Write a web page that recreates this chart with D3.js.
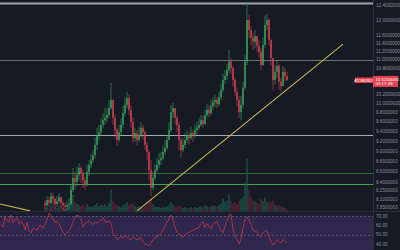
<!DOCTYPE html>
<html>
<head>
<meta charset="utf-8">
<script src="https://cdn.jsdelivr.net/npm/d3@7"></script>
<style>
  html, body { margin: 0; padding: 0; background: #161a25; }
  svg { display: block; font-family: "Liberation Sans", "DejaVu Sans", sans-serif; }
</style>
</head>
<body>
<div id="chart"></div>
<script>
// candle closes / highs / lows, one per bar (bar 0 is the first one on screen)
var closes = [7.99,8.08,8.03,8.15,8.10,8.01,8.06,8.13,8.03,7.98,7.96,7.99,8.01,
  8.26,8.48,8.41,8.54,8.67,8.56,8.44,8.35,8.59,8.73,8.82,8.92,9.12,9.32,9.38,9.53,9.63,9.68,9.74,9.89,10.07,
  9.68,9.42,9.22,9.38,9.53,9.78,9.96,10.11,9.85,9.59,9.26,9.36,9.22,9.32,9.47,9.38,9.12,8.98,8.63,8.30,
  8.48,8.63,8.73,8.82,8.86,8.98,9.06,9.22,9.42,9.80,9.89,9.68,9.53,9.22,9.02,9.12,9.22,9.32,9.26,9.36,
  9.30,9.42,9.47,9.53,9.63,9.55,9.74,9.85,9.78,9.93,10.02,10.07,9.98,10.13,10.29,10.52,10.61,10.75,10.95,
  10.80,10.52,10.25,10.07,9.80,9.96,10.34,10.95,12.00,11.74,11.54,11.44,11.59,11.34,11.19,10.87,11.36,
  11.87,12.00,11.49,11.04,10.52,10.71,10.85,10.48,10.38,10.71,10.61,10.52];
var highs = [8.08,8.15,8.14,8.22,8.21,8.12,8.15,8.21,8.12,8.06,8.03,8.06,8.10,
  8.35,8.67,8.59,8.69,8.76,8.71,8.63,8.50,8.73,8.82,8.94,9.02,9.26,9.47,9.53,9.67,9.78,9.89,9.89,10.07,10.45,
  10.07,9.74,9.47,9.53,9.67,9.93,10.13,10.25,10.18,9.96,9.68,9.47,9.42,9.49,9.59,9.53,9.42,9.18,9.02,8.82,
  8.59,8.73,8.86,8.96,8.98,9.10,9.22,9.32,9.59,9.96,10.00,9.89,9.74,9.59,9.26,9.26,9.36,9.42,9.38,9.49,
  9.42,9.53,9.59,9.68,9.74,9.72,9.85,9.98,9.96,10.07,10.13,10.18,10.13,10.25,10.43,10.66,10.75,10.90,11.24,
  11.04,10.85,10.57,10.34,10.16,10.16,10.48,11.11,12.46,12.13,11.84,11.66,11.74,11.54,11.49,11.29,11.54,
  12.13,12.16,12.05,11.49,10.99,10.87,10.99,10.90,10.57,10.85,10.80,10.71];
var lows = [7.92,7.98,7.96,7.99,8.01,7.92,7.96,8.01,7.94,7.90,7.89,7.90,7.92,
  7.98,8.22,8.26,8.33,8.44,8.39,8.30,8.26,8.33,8.52,8.67,8.77,8.86,9.02,9.22,9.30,9.47,9.53,9.59,9.68,9.85,
  9.53,9.26,9.10,9.18,9.30,9.47,9.72,9.89,9.74,9.47,9.16,9.18,9.12,9.18,9.26,9.22,9.02,8.82,8.44,8.15,
  8.26,8.44,8.59,8.67,8.73,8.82,8.92,9.02,9.22,9.38,9.68,9.53,9.38,9.02,8.88,8.98,9.06,9.16,9.12,9.22,
  9.18,9.26,9.34,9.42,9.49,9.47,9.53,9.68,9.68,9.74,9.85,9.91,9.89,9.93,10.07,10.25,10.43,10.52,10.68,
  10.66,10.38,10.16,9.93,9.68,9.63,9.89,10.29,10.87,11.54,11.36,11.24,11.29,11.19,11.04,10.75,10.85,
  11.29,11.74,11.34,10.85,10.29,10.41,10.57,10.29,10.25,10.43,10.50,10.50];
var firstOpen = 8.03;
var volumes = [4,6,3,5,7,4,3,5,4,3,2,3,5,
  24,16,9,7,6,5,6,5,7,5,4,5,6,8,5,6,5,7,5,8,22,10,8,6,5,4,6,7,9,6,7,8,5,4,5,4,3,5,6,9,12,
  7,5,4,4,3,4,4,5,6,9,7,5,4,6,5,3,4,3,3,4,3,4,3,4,5,4,6,5,4,5,6,5,4,6,8,12,9,10,16,10,8,9,7,
  10,12,14,28,52,22,14,10,9,8,7,12,10,14,9,10,9,11,6,5,6,5,4,3,2];
// RSI, one value per bar, starting 22 bars before the first visible candle
var rsiStart = -22;
var rsi = [61,58,69,65,64,71,63,66,68,62,64,62,55,63,55,52,57,56,55,59,60,57,61,66,73,71,67,63,64,62,
  57,53,50,52,54,58,64,69,71,70,66,58,62,63,65,63,61,63,63,64,66,68,64,63,65,62,52,48,45,47,48,47,
  49,48,46,45,48,46,45,46,47,43,40.5,39.5,38.5,41.5,45,47,48,50,51,55,59,63,67,71,66,58,53,51,49,48,
  50,52,53,54,55,56,57,58,62,64,58,62,59,56,61,63,64,59,55,52,59,65,71,72,55,49,45,40.5,45,58,66,69,
  66,61,55,54,53,49,48,52,54,55,48,43,39.5,41.5,45,43,41.5,45,43,41.5];
// 10.6 and 10.4 sit under the last-price tag, so they are not listed
var priceTicks = [12.4,12.0,11.6,11.4,11.2,11.0,10.8,10.2,10.0,9.8,9.6,9.4,9.2,9.0,8.8,8.6,8.4,8.25,8.1,7.95];
var rsiTicks = [70,60,50,40];
var levelLines = [
  {price: 12.46, color: "#a3a6ad", width: 2},
  {price: 10.99, color: "#6f727b", width: 1},
  {price: 9.32, color: "#a7aab2", width: 1},
  {price: 8.57, color: "#2f6a3a", width: 1},
  {price: 8.37, color: "#46a352", width: 1}
];
var trendLines = [
  [[46, 7.89], [149, 11.38]],
  [[-22.5, 8.01], [-7.5, 7.89]]
];
var lastPrice = 10.52;
var symbol = "ATOMUSDT";
var countdown = "02:17:48";

var width = 400, height = 250;
var plotRight = 373, mainBottom = 211, rsiTop = 212;

var bars = closes.map(function(c, i) {
  var o = i === 0 ? firstOpen : closes[i - 1];
  return {i: i, open: o, close: c,
    high: Math.max(highs[i], o, c), low: Math.min(lows[i], o, c), vol: volumes[i]};
});

var x = d3.scaleLinear().domain([-22.5, 164]).range([0, plotRight]);
var y = d3.scaleLog().domain([7.888, 12.54]).range([mainBottom, 0]);
var yVol = d3.scaleLinear().domain([0, 55]).range([mainBottom, mainBottom - 55]);
var yRsi = d3.scaleLinear().domain([34, 74.2]).range([height, rsiTop]);

var svg = d3.select("#chart").append("svg")
  .attr("width", width).attr("height", height);

svg.append("rect").attr("width", width).attr("height", height).attr("fill", "#161a25");

var defs = svg.append("defs");
defs.append("clipPath").attr("id", "mainClip")
  .append("rect").attr("x", 0).attr("y", 0).attr("width", plotRight).attr("height", mainBottom);
defs.append("clipPath").attr("id", "rsiClip")
  .append("rect").attr("x", 0).attr("y", rsiTop).attr("width", plotRight).attr("height", height - rsiTop);

// rsi panel
var rsiG = svg.append("g").attr("clip-path", "url(#rsiClip)");
rsiG.append("rect").attr("x", 0).attr("y", rsiTop).attr("width", plotRight).attr("height", height - rsiTop)
  .attr("fill", "#1c1c2f");
rsiG.append("rect").attr("x", 0).attr("y", yRsi(70)).attr("width", plotRight)
  .attr("height", yRsi(30) - yRsi(70)).attr("fill", "#7e57c2").attr("fill-opacity", 0.2);
rsiG.selectAll(".rsiLevel").data([70, 50]).enter().append("line")
  .attr("x1", 0).attr("x2", plotRight)
  .attr("y1", function(d) { return yRsi(d) + 0.5; }).attr("y2", function(d) { return yRsi(d) + 0.5; })
  .attr("stroke", "#5d5a75").attr("stroke-dasharray", "2,2").attr("stroke-width", 1);
rsiG.append("path")
  .datum(rsi)
  .attr("fill", "none").attr("stroke", "#c9354c").attr("stroke-width", 0.8)
  .attr("d", d3.line()
    .x(function(d, k) { return x(rsiStart + k); })
    .y(function(d) { return yRsi(d); }));

// main panel
var main = svg.append("g").attr("clip-path", "url(#mainClip)");

main.selectAll(".level").data(levelLines).enter().append("line")
  .attr("x1", 0).attr("x2", plotRight)
  .attr("y1", function(d) { return Math.round(y(d.price)) + 0.5; })
  .attr("y2", function(d) { return Math.round(y(d.price)) + 0.5; })
  .attr("stroke", function(d) { return d.color; })
  .attr("stroke-width", function(d) { return d.width; });

main.selectAll(".vol").data(bars).enter().append("rect")
  .attr("x", function(d) { return x(d.i) - 0.8; })
  .attr("width", 1.6)
  .attr("y", function(d) { return yVol(d.vol); })
  .attr("height", function(d) { return mainBottom - yVol(d.vol); })
  .attr("fill", function(d) { return d.close >= d.open ? "#1b6b5c" : "#7a2a3a"; })
  .attr("fill-opacity", 0.6);

main.selectAll(".trend").data(trendLines).enter().append("line")
  .attr("x1", function(d) { return x(d[0][0]); }).attr("y1", function(d) { return y(d[0][1]); })
  .attr("x2", function(d) { return x(d[1][0]); }).attr("y2", function(d) { return y(d[1][1]); })
  .attr("stroke", "#c9b548").attr("stroke-width", 1.1);

var candle = main.selectAll(".candle").data(bars).enter().append("g");
candle.append("line")
  .attr("x1", function(d) { return x(d.i); }).attr("x2", function(d) { return x(d.i); })
  .attr("y1", function(d) { return y(d.high); }).attr("y2", function(d) { return y(d.low); })
  .attr("stroke", function(d) { return d.close >= d.open ? "#3aa55a" : "#d8404e"; })
  .attr("stroke-width", 0.6);
candle.append("rect")
  .attr("x", function(d) { return x(d.i) - 0.7; })
  .attr("width", 1.4)
  .attr("y", function(d) { return y(Math.max(d.open, d.close)); })
  .attr("height", function(d) { return Math.max(0.8, Math.abs(y(d.open) - y(d.close))); })
  .attr("fill", function(d) { return d.close >= d.open ? "#3aa55a" : "#d8404e"; });

// separators
svg.append("line").attr("x1", 0).attr("x2", width).attr("y1", mainBottom + 0.5).attr("y2", mainBottom + 0.5)
  .attr("stroke", "#2a2e39");
svg.append("line").attr("x1", plotRight + 0.5).attr("x2", plotRight + 0.5).attr("y1", 0).attr("y2", height)
  .attr("stroke", "#2a2e39");

// right axis labels
svg.selectAll(".ptick").data(priceTicks).enter().append("text")
  .attr("x", plotRight + 3).attr("y", function(d) { return y(d); })
  .attr("dy", "0.35em")
  .attr("font-size", 4.6).attr("fill", "#8a8e99")
  .text(function(d) { return d.toFixed(7); });
svg.selectAll(".rtick").data(rsiTicks).enter().append("text")
  .attr("x", plotRight + 3).attr("y", function(d) { return yRsi(d); })
  .attr("dy", "0.35em")
  .attr("font-size", 4.6).attr("fill", "#8a8e99")
  .text(function(d) { return d.toFixed(2); });

// last price tags
var py = y(lastPrice);
svg.append("rect").attr("x", 355).attr("y", py - 2.5).attr("width", plotRight - 355).attr("height", 5.5)
  .attr("fill", "#e8404f");
svg.append("text").attr("x", 364).attr("y", py + 0.3).attr("dy", "0.35em")
  .attr("text-anchor", "middle").attr("font-size", 3.6).attr("fill", "#fff").text(symbol);
svg.append("rect").attr("x", plotRight).attr("y", py - 4).attr("width", 25).attr("height", 11)
  .attr("fill", "#e8404f");
svg.append("text").attr("x", plotRight + 2.5).attr("y", py - 0.8).attr("dy", "0.35em")
  .attr("font-size", 4.4).attr("fill", "#fff").text(lastPrice.toFixed(7));
svg.append("text").attr("x", plotRight + 2.5).attr("y", py + 4).attr("dy", "0.35em")
  .attr("font-size", 4.4).attr("fill", "#fff").text(countdown);
</script>
</body>
</html>
